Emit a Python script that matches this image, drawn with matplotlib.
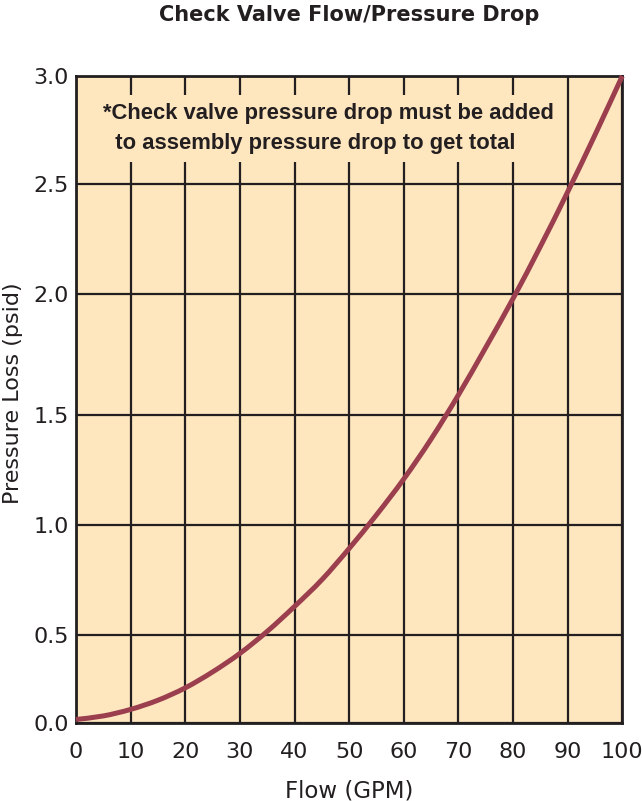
import numpy as np
import matplotlib
matplotlib.use("Agg")
import matplotlib.pyplot as plt
from matplotlib.path import Path
from matplotlib.patches import PathPatch

# ---- data ----
flow_gpm = [0, 5, 10, 15, 20, 25, 30, 35, 40, 45, 50,
            55, 60, 65, 70, 75, 80, 85, 90, 95, 100]
pressure_psid = [0.02, 0.04, 0.077, 0.129, 0.199, 0.289, 0.394, 0.515, 0.629, 0.751, 0.894,
                 1.047, 1.21, 1.391, 1.583, 1.779, 1.981, 2.215, 2.462, 2.726, 3.00]
x_ticks = [0, 10, 20, 30, 40, 50, 60, 70, 80, 90, 100]
y_ticks = [0.0, 0.5, 1.0, 1.5, 2.0, 2.5, 3.0]
y_tick_labels = ["0.0", "0.5", "1.0", "1.5", "2.0", "2.5", "3.0"]

title = "Check Valve Flow/Pressure Drop"
x_label = "Flow (GPM)"
y_label = "Pressure Loss (psid)"
note = "*Check valve pressure drop must be added\n  to assembly pressure drop to get total"

# ---- style ----
BG = "#FEE6BF"
INK = "#231F20"
CURVE = "#9B3F4F"
FONT = ["DejaVu Sans"]

# The reference's pressure grid has uneven spacing; reproduce it with a
# piecewise-linear axis scale (fraction of axis height at each grid value).
grid_frac = [0.0, 0.1365, 0.3056, 0.4760, 0.6631, 0.8338, 1.0]


def fwd(v):
    return np.interp(v, y_ticks, grid_frac)


def inv(f):
    return np.interp(f, grid_frac, y_ticks)


fig = plt.figure(figsize=(6.42, 8.01), dpi=100)
ax = fig.add_axes([76 / 642, 1 - 723 / 801, (622.3 - 76) / 642, (723 - 76) / 801])
ax.set_facecolor(BG)
ax.set_yscale("function", functions=(fwd, inv))

# smooth curve through the read points: Catmull-Rom spline built in the
# scaled (drawn) space, expressed as cubic Bezier segments in data units
xs = np.asarray(flow_gpm, float)
ss = fwd(np.asarray(pressure_psid, float))
n = len(xs)
verts = [(xs[0], inv(ss[0]))]
codes = [Path.MOVETO]
for i in range(n - 1):
    a = max(i - 1, 0)
    b = min(i + 2, n - 1)
    c1 = (xs[i] + (xs[i + 1] - xs[a]) / 6, inv(ss[i] + (ss[i + 1] - ss[a]) / 6))
    c2 = (xs[i + 1] - (xs[b] - xs[i]) / 6, inv(ss[i + 1] - (ss[b] - ss[i]) / 6))
    verts += [c1, c2, (xs[i + 1], inv(ss[i + 1]))]
    codes += [Path.CURVE4] * 3
ax.add_patch(PathPatch(Path(verts, codes), fill=False, edgecolor=CURVE, lw=3.6,
                       capstyle="butt", joinstyle="round", zorder=4, clip_on=False))

ax.set_xlim(0, 100)
ax.set_ylim(0, 3)
ax.set_xticks(x_ticks)
ax.set_yticks(y_ticks)
ax.set_yticklabels(y_tick_labels)
ax.minorticks_off()
ax.grid(True, color=INK, lw=1.6)
ax.set_axisbelow(True)
ax.tick_params(length=0, labelsize=16, colors=INK)
ax.tick_params(axis="x", pad=14)
ax.tick_params(axis="y", pad=5)
for lab in ax.get_xticklabels() + ax.get_yticklabels():
    lab.set_family(FONT)
for s in ax.spines.values():
    s.set_color(INK)
    s.set_linewidth(2.0)

ax.set_xlabel(x_label, fontsize=16.5, color=INK, family=FONT, labelpad=12)
ax.set_ylabel(y_label, fontsize=16, color=INK, family=FONT)
ax.yaxis.set_label_coords(-0.097, 0.51)

fig.text(0.5 * (76 + 622.3) / 642, 1 - 15 / 801, title, ha="center", va="center",
         fontsize=15, fontweight="bold", color=INK, family=FONT)

ax.text(0.05, 0.959, note, transform=ax.transAxes, ha="left", va="top",
        fontsize=15.8, fontweight="bold", color=INK,
        family=["Liberation Sans", "DejaVu Sans"], linespacing=1.6,
        bbox=dict(boxstyle="square,pad=0.36", facecolor=BG, edgecolor="none"),
        zorder=3)

fig.savefig("out.png", dpi=100, facecolor="white")
